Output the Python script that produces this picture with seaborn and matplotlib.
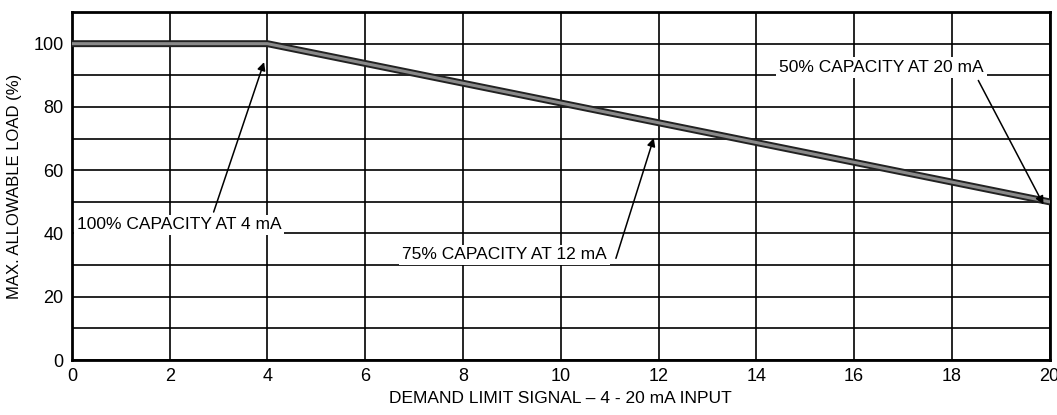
import pandas as pd
import seaborn as sns
import matplotlib.pyplot as plt

# signal (mA) vs max allowable load (%)
signal_ma = [0, 4, 20]
max_load = [100, 100, 50]
x_ticks = [0, 2, 4, 6, 8, 10, 12, 14, 16, 18, 20]
y_ticks = [0, 20, 40, 60, 80, 100]

df = pd.DataFrame({'signal': signal_ma, 'load': max_load})

sns.set_theme(style='white')
plt.rcParams['font.family'] = ['Liberation Sans', 'DejaVu Sans']
plt.rcParams['text.color'] = 'black'
plt.rcParams['axes.labelcolor'] = 'black'
plt.rcParams['xtick.color'] = 'black'
plt.rcParams['ytick.color'] = 'black'

fig = plt.figure(figsize=(10.57, 4.15), dpi=100)
ax = fig.add_axes([0.068, 0.1325, 0.925, 0.8385])

# grid every 2 mA / 10 %
for x in range(0, 21, 2):
    ax.axvline(x, color='black', lw=1.2, zorder=1)
for y in range(0, 111, 10):
    ax.axhline(y, color='black', lw=1.2, zorder=1)

# thick double-edged curve
sns.lineplot(data=df, x='signal', y='load', color='#222222', lw=5, ax=ax, zorder=3)
sns.lineplot(data=df, x='signal', y='load', color='#8a8a8a', lw=2.2, ax=ax, zorder=4)

box = dict(facecolor='white', edgecolor='none', pad=2)
arrow = dict(arrowstyle='-|>', color='black', lw=1.1, mutation_scale=12)

ax.annotate('100% CAPACITY AT 4 mA', xy=(3.95, 95), xytext=(0.1, 42.7),
            fontsize=12.5, va='center', ha='left', bbox=box, zorder=5,
            arrowprops=dict(arrow, relpos=(0.66, 1.0)))
ax.annotate('75% CAPACITY AT 12 mA', xy=(11.92, 71), xytext=(8.85, 33.2),
            fontsize=12.5, va='center', ha='center', bbox=box, zorder=5,
            arrowprops=dict(arrow, relpos=(1.04, 0.1)))
ax.annotate('50% CAPACITY AT 20 mA', xy=(19.9, 48.4), xytext=(16.56, 92.4),
            fontsize=12.5, va='center', ha='center', bbox=box, zorder=5,
            arrowprops=dict(arrow, relpos=(0.96, 0.0)))

ax.set_xlim(0, 20)
ax.set_ylim(0, 110)
ax.set_xticks(x_ticks)
ax.set_yticks(y_ticks)
ax.tick_params(axis='both', labelsize=13, length=0, pad=6)
ax.set_xlabel('DEMAND LIMIT SIGNAL – 4 - 20 mA INPUT', fontsize=12.5, labelpad=4)
ax.set_ylabel('MAX. ALLOWABLE LOAD (%)', fontsize=12, labelpad=8)
for s in ax.spines.values():
    s.set_color('black')
    s.set_linewidth(2)

fig.savefig('out.png', dpi=100)
